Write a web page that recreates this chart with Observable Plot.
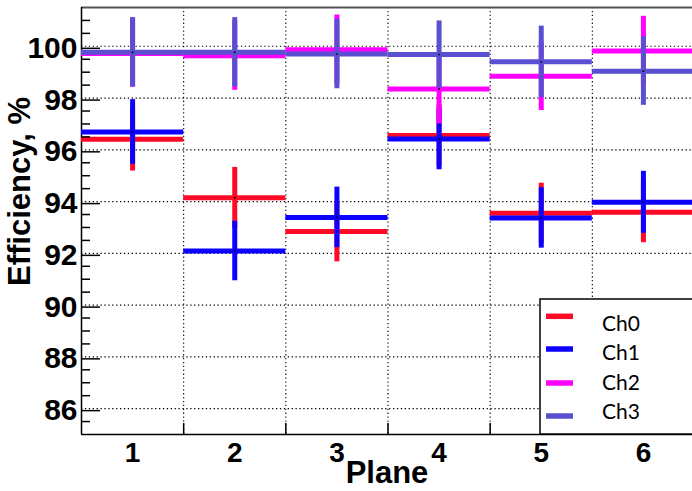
<!DOCTYPE html>
<html>
<head>
<meta charset="utf-8">
<script src="https://cdn.jsdelivr.net/npm/d3@7"></script>
<script src="https://cdn.jsdelivr.net/npm/@observablehq/plot@0.6"></script>
<style>
  html, body { margin: 0; padding: 0; background: #fff; }
  #chart { position: relative; width: 692px; height: 491px; overflow: hidden; }
  #chart svg { display: block; }
  #legend { position: absolute; left: 0; top: 0; pointer-events: none; }
</style>
</head>
<body>
<div id="chart"></div>
<script>
// Detector planes and per-channel efficiency (%) with statistical errors
const planes = [1, 2, 3, 4, 5, 6];
const binEdges = [1.5, 2.5, 3.5, 4.5, 5.5];

const ch0Eff = [96.41, 94.15, 92.84, 96.55, 93.55, 93.59];
const ch0Err = [1.23, 1.17, 1.17, 1.20, 1.16, 1.18];
const ch1Eff = [96.69, 92.09, 93.39, 96.42, 93.37, 93.97];
const ch1Err = [1.25, 1.15, 1.17, 1.19, 1.17, 1.20];
const ch2Eff = [99.72, 99.64, 99.87, 98.35, 98.84, 99.82];
const ch2Err = [1.30, 1.34, 1.34, 1.35, 1.32, 1.34];
const ch3Eff = [99.77, 99.77, 99.70, 99.68, 99.40, 99.04];
const ch3Err = [1.34, 1.34, 1.34, 1.30, 1.38, 1.32];

const channels = ["Ch0", "Ch1", "Ch2", "Ch3"];
const colors = ["#ff0a26", "#0c00ff", "#ff00ff", "#5a4fd0"];

const yMajor = [86, 88, 90, 92, 94, 96, 98, 100];
const yMinor = d3.range(85.5, 101.5, 0.5).filter(v => v % 2 !== 0);

const effs = [ch0Eff, ch1Eff, ch2Eff, ch3Eff];
const errs = [ch0Err, ch1Err, ch2Err, ch3Err];

const series = channels.map((name, k) =>
  planes.map((p, i) => ({channel: name, plane: p, eff: effs[k][i], err: errs[k][i]}))
);

const font = "'Liberation Sans', Arial, Helvetica, sans-serif";

// Error-bar crosses: full-bin horizontal bar plus vertical error range
const barMarks = series.flatMap((rows, k) => [
  Plot.ruleY(rows, {y: "eff", x1: d => d.plane - 0.5, x2: d => d.plane + 0.5,
    stroke: colors[k], strokeWidth: 5}),
  Plot.ruleX(rows, {x: "plane", y1: d => d.eff - d.err, y2: d => d.eff + d.err,
    stroke: colors[k], strokeWidth: 5}),
  Plot.dot(rows, {x: "plane", y: "eff", r: 0.9, fill: "#000", stroke: null})
]);

const chart = Plot.plot({
  width: 692,
  height: 491,
  marginLeft: 81,
  marginRight: 0,
  marginTop: 7,
  marginBottom: 57,
  style: {fontFamily: font, background: "#fff", color: "#000"},
  x: {domain: [0.5, 6.5], range: [81, 694], axis: null},
  y: {domain: [85, 101.5], axis: null},
  marks: [
    // dotted grid
    Plot.gridY(yMajor, {stroke: "#000", strokeOpacity: 1, strokeWidth: 1.1, strokeDasharray: "1.3,2.6"}),
    Plot.gridX(binEdges, {stroke: "#000", strokeOpacity: 1, strokeWidth: 1.1, strokeDasharray: "1.3,2.6"}),
    // frame
    Plot.ruleY([101.5], {stroke: "#555", strokeWidth: 2}),
    Plot.ruleX([0.5], {stroke: "#000", strokeWidth: 1.5}),
    Plot.ruleY([85], {stroke: "#000", strokeWidth: 1.5}),
    ...barMarks,
    // y axis: inward major and minor ticks, labels
    Plot.axisY({ticks: yMajor, anchor: "left", tickSize: -19, tickPadding: 23, strokeWidth: 1.5,
      fontSize: 30, fontWeight: "bold", dy: 2, label: null}),
    Plot.axisY({ticks: yMinor, anchor: "left", tickSize: -9, tickFormat: () => "", strokeWidth: 1.5, label: null}),
    // x axis: ticks at bin edges, labels at plane centres
    Plot.axisX({ticks: binEdges, anchor: "bottom", tickSize: -11, tickFormat: () => "", strokeWidth: 1.5, label: null}),
    Plot.axisX({ticks: planes, anchor: "bottom", tickSize: 0, tickPadding: 8, tickFormat: d => String(d),
      fontSize: 28, fontWeight: "bold", label: null}),
    // axis titles
    Plot.text(["Plane"], {frameAnchor: "bottom", text: d => d, dy: 39, lineAnchor: "middle",
      textAnchor: "middle", fontSize: 31, fontWeight: "bold"}),
    Plot.text(["Efficiency, %"], {frameAnchor: "left", text: d => d, rotate: -90, dx: -61, dy: -29.5,
      textAnchor: "middle", lineAnchor: "middle", fontSize: 31, fontWeight: "bold"})
  ]
});

const root = document.getElementById("chart");
root.appendChild(chart);

// Legend box in the lower-right corner of the frame
const legend = d3.select(root).append("svg")
  .attr("id", "legend")
  .attr("width", 692)
  .attr("height", 491);

legend.append("rect")
  .attr("x", 540).attr("y", 299)
  .attr("width", 170).attr("height", 135)
  .attr("fill", "#fff").attr("stroke", "#000").attr("stroke-width", 1.5);

const swatchY = [316.3, 349, 383, 416];
const labelY = [331, 360, 389.5, 419];
channels.forEach((name, k) => {
  legend.append("line")
    .attr("x1", 546).attr("x2", 573)
    .attr("y1", swatchY[k]).attr("y2", swatchY[k])
    .attr("stroke", colors[k]).attr("stroke-width", 5.5);
  legend.append("text")
    .attr("x", 602).attr("y", labelY[k])
    .attr("font-family", "Lato, 'Open Sans', sans-serif")
    .attr("font-size", 21)
    .attr("fill", "#000")
    .text(name);
});
</script>
</body>
</html>
